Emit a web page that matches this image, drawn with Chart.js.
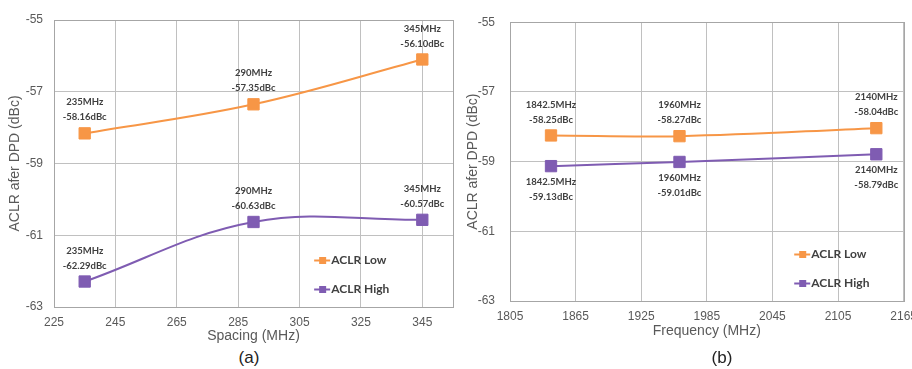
<!DOCTYPE html>
<html>
<head>
<meta charset="utf-8">
<script src="https://cdn.jsdelivr.net/npm/chart.js@4"></script>
<style>
  body { margin: 0; background: #fff; }
  #wrap { position: relative; width: 912px; height: 369px; overflow: hidden; background: #fff; }
  .panel { position: absolute; top: 0; }
  .cap { position: absolute; top: 349px; font: 17px 'Liberation Sans', Arial, sans-serif; line-height: 17px; color: #222; transform: translateX(-50%); }
</style>
</head>
<body>
<div id="wrap">
  <canvas id="chartA" class="panel" style="left:0" width="462" height="348"></canvas>
  <canvas id="chartB" class="panel" style="left:455px" width="470" height="348"></canvas>
  <div class="cap" style="left:249px">(a)</div>
  <div class="cap" style="left:722px">(b)</div>
</div>
<script>
// (a) ACLR vs carrier spacing
const spacingMHz = [235, 290, 345];
const spacingLow = [-58.16, -57.35, -56.10];
const spacingHigh = [-62.29, -60.63, -60.57];
const spacingTicks = [225, 245, 265, 285, 305, 325, 345];

// (b) ACLR vs frequency
const freqMHz = [1842.5, 1960, 2140];
const freqLow = [-58.25, -58.27, -58.04];
const freqHigh = [-59.13, -59.01, -58.79];
const freqTicks = [1805, 1865, 1925, 1985, 2045, 2105, 2165];

const aclrTicks = [-63, -61, -59, -57, -55];
const seriesNames = ['ACLR Low', 'ACLR High'];

const orange = '#F79646';
const purple = '#7F5CB2';
const axisFont = "'Liberation Sans', Arial, sans-serif";

// border around the plot area
const plotBorder = {
  id: 'plotBorder',
  beforeDatasetsDraw(chart) {
    const a = chart.chartArea;
    const ctx = chart.ctx;
    ctx.save();
    ctx.strokeStyle = '#a6a6a6';
    ctx.lineWidth = 1;
    ctx.strokeRect(Math.round(a.left) + 0.5, Math.round(a.top) + 0.5,
      Math.round(a.width), Math.round(a.height));
    ctx.restore();
  }
};

// two-line labels next to each point
const pointLabels = {
  id: 'pointLabels',
  afterDatasetsDraw(chart, args, opts) {
    const ctx = chart.ctx;
    ctx.save();
    ctx.font = 'bold 9.5px Lato';
    ctx.fillStyle = '#404040';
    ctx.textAlign = 'center';
    ctx.textBaseline = 'middle';
    chart.data.datasets.forEach((ds, di) => {
      const meta = chart.getDatasetMeta(di);
      const below = opts.below[di];
      meta.data.forEach((pt, i) => {
        const d = ds.data[i];
        const y1 = below ? pt.y + 16 : pt.y - 31;
        ctx.fillText(d.x + 'MHz', pt.x, y1);
        ctx.fillText(d.y.toFixed(2) + 'dBc', pt.x, y1 + 15);
      });
    });
    ctx.restore();
  }
};

// legend placed inside the plot area
const insideLegend = {
  id: 'insideLegend',
  afterDraw(chart, args, opts) {
    const a = chart.chartArea;
    const ctx = chart.ctx;
    ctx.save();
    chart.data.datasets.forEach((ds, i) => {
      const x = a.left + a.width * opts.x;
      const y = Math.round(a.top + a.height * opts.y[i]) + 0.5;
      ctx.strokeStyle = ds.borderColor;
      ctx.lineWidth = 2;
      ctx.beginPath();
      ctx.moveTo(x, y);
      ctx.lineTo(x + 16, y);
      ctx.stroke();
      ctx.fillStyle = ds.borderColor;
      ctx.fillRect(x + 5, y - 3.5, 7, 7);
      ctx.font = 'bold 12px Lato';
      ctx.fillStyle = '#404040';
      ctx.textBaseline = 'middle';
      ctx.fillText(ds.label, x + 17, y);
    });
    ctx.restore();
  }
};

function series(label, xs, ys, color) {
  return {
    label: label,
    data: xs.map((x, i) => ({ x: x, y: ys[i] })),
    borderColor: color,
    backgroundColor: color,
    borderWidth: 2,
    pointStyle: 'rect',
    pointRadius: 8,
    pointBorderWidth: 1,
    tension: 0.38
  };
}

function makeChart(id, xs, low, high, cfg) {
  return new Chart(document.getElementById(id), {
    type: 'line',
    data: {
      datasets: [
        series(seriesNames[0], xs, low, orange),
        series(seriesNames[1], xs, high, purple)
      ]
    },
    options: {
      responsive: false,
      animation: false,
      layout: { padding: cfg.padding },
      scales: {
        x: {
          type: 'linear',
          min: cfg.xMin,
          max: cfg.xMax,
          afterBuildTicks: s => { s.ticks = cfg.xTicks.map(v => ({ value: v })); },
          afterFit: s => { s.height = cfg.xHeight; },
          grid: { color: '#c0c0c0', drawTicks: false },
          border: { display: false },
          ticks: { padding: 8, color: '#595959', font: { size: 12, family: axisFont }, maxRotation: 0, autoSkip: false, callback: v => String(v) },
          title: { display: true, text: cfg.xTitle, color: '#595959', font: { size: 14, family: axisFont }, padding: { top: 0, bottom: cfg.xTitlePad } }
        },
        y: {
          min: -63,
          max: -55,
          afterBuildTicks: s => { s.ticks = aclrTicks.map(v => ({ value: v })); },
          afterFit: s => { s.width = cfg.yWidth; },
          grid: { color: '#c0c0c0', drawTicks: false },
          border: { display: false },
          ticks: { padding: cfg.yTickPad, color: '#595959', font: { size: 12, family: axisFont }, callback: v => String(v) },
          title: { display: true, text: 'ACLR afer DPD (dBc)', color: '#595959', font: { size: 14, family: axisFont }, padding: { top: cfg.yTitlePad, bottom: 0 } }
        }
      },
      plugins: {
        legend: { display: false },
        tooltip: { enabled: false },
        pointLabels: { below: cfg.below },
        insideLegend: cfg.legend
      }
    },
    plugins: [plotBorder, pointLabels, insideLegend]
  });
}

makeChart('chartA', spacingMHz, spacingLow, spacingHigh, {
  padding: { top: 20, right: 6, left: 0, bottom: 0 },
  xMin: 225, xMax: 355, xTicks: spacingTicks,
  xTitle: 'Spacing (MHz)', xHeight: 41, xTitlePad: 3,
  yWidth: 54, yTickPad: 11, yTitlePad: 7,
  below: [false, false],
  legend: { x: 0.652, y: [0.836, 0.937] }
});

makeChart('chartB', freqMHz, freqLow, freqHigh, {
  padding: { top: 15, right: 20, left: 0, bottom: 0 },
  xMin: 1805, xMax: 2165, xTicks: freqTicks,
  xTitle: 'Frequency (MHz)', xHeight: 47, xTitlePad: 8,
  yWidth: 55, yTickPad: 15, yTitlePad: 10,
  below: [false, true],
  legend: { x: 0.722, y: [0.832, 0.934] }
});
</script>
</body>
</html>
